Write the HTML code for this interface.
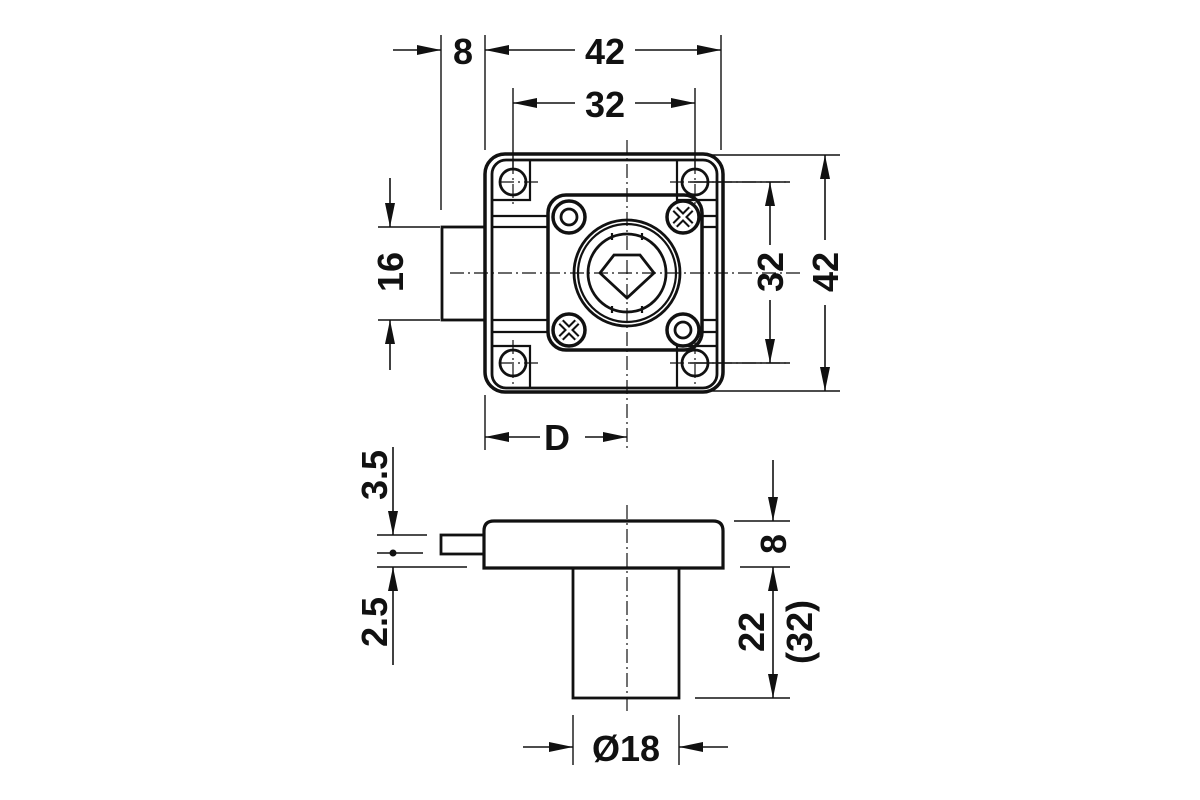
<!DOCTYPE html>
<html><head><meta charset="utf-8"><style>
html,body{margin:0;padding:0;background:#fff;}
svg{display:block}
text{font-family:"Liberation Sans",Arial,sans-serif;font-weight:bold;font-size:36px;fill:#111;}
</style></head><body>
<svg width="1200" height="800" viewBox="0 0 1200 800" xmlns="http://www.w3.org/2000/svg">
<defs>
<marker id="a" viewBox="0 0 24 10" refX="24" refY="5" markerWidth="24" markerHeight="10" markerUnits="userSpaceOnUse" orient="auto-start-reverse"><path d="M0,0 L24,5 L0,10 z" fill="#111"/></marker>
</defs>
<g stroke="#111" fill="none">
<rect x="485" y="154" width="238" height="238" rx="20" stroke-width="3.5"/>
<rect x="492" y="160" width="225" height="228" rx="14" stroke-width="2.8"/>
<path d="M492,200 H530 V160 M677,160 V200 H717 M492,346 H530 V388 M677,388 V346 H717" stroke-width="2.2"/>
<path d="M492,216 H548 M492,227 H548 M492,320 H548 M492,332 H548 M702,216 H717 M702,227 H717 M702,320 H717 M702,332 H717" stroke-width="2.2"/>
<rect x="442" y="227" width="43" height="93" stroke-width="2.8"/>
<rect x="548" y="195" width="154" height="155" rx="18" stroke-width="3.5"/>
<circle cx="513" cy="182" r="13" stroke-width="2.8"/>
<circle cx="695" cy="182" r="13" stroke-width="2.8"/>
<circle cx="513" cy="363" r="13" stroke-width="2.8"/>
<circle cx="695" cy="363" r="13" stroke-width="2.8"/>
<circle cx="569" cy="217" r="16" stroke-width="3.5"/><circle cx="569" cy="217" r="8" stroke-width="2.8"/>
<circle cx="683" cy="330" r="16" stroke-width="3.5"/><circle cx="683" cy="330" r="8" stroke-width="2.8"/>
<circle cx="683" cy="217" r="16" stroke-width="3.5"/>
<circle cx="569" cy="330" r="16" stroke-width="3.5"/>
<path d="M675,209 L691,225 M691,209 L675,225 M561,322 L577,338 M577,322 L561,338" stroke-width="7"/>
<path d="M675,209 L691,225 M691,209 L675,225 M561,322 L577,338 M577,322 L561,338" stroke="#fff" stroke-width="3"/>
<circle cx="627" cy="273" r="53" stroke-width="2.8"/>
<circle cx="627" cy="273" r="49" stroke-width="2.2"/>
<circle cx="627" cy="273" r="39" stroke-width="2.8"/>
<path d="M612,233 V240 M642,233 V240 M612,306 V313 M642,306 V313" stroke-width="2.2"/>
<path d="M600,273 L614,255 H640 L654,273 L627,298 Z" stroke-width="2.8"/>
<path d="M450,273 H800 M627,140 V450 M500,182 H540 M670,182 H790 M500,363 H540 M670,363 H790 M513,160 V205 M695,160 V205 M513,340 V385 M695,340 V385" stroke-width="1.2" stroke-dasharray="14,4,2,4"/>
<path d="M441,35 V210 M485,35 V150 M721,35 V150 M513,88 V170 M695,88 V170" stroke-width="1.4"/>
<path d="M393,50 H441" stroke-width="1.6" marker-end="url(#a)"/>
<path d="M575,50 H485" stroke-width="1.6" marker-end="url(#a)"/>
<path d="M635,50 H721" stroke-width="1.6" marker-end="url(#a)"/>
<path d="M575,103 H513" stroke-width="1.6" marker-end="url(#a)"/>
<path d="M635,103 H695" stroke-width="1.6" marker-end="url(#a)"/>
<path d="M712,155 H840 M712,391 H840 M690,182 H790 M690,363 H790" stroke-width="1.4"/>
<path d="M825,240 V155" stroke-width="1.6" marker-end="url(#a)"/>
<path d="M825,305 V391" stroke-width="1.6" marker-end="url(#a)"/>
<path d="M770,245 V182" stroke-width="1.6" marker-end="url(#a)"/>
<path d="M770,300 V363" stroke-width="1.6" marker-end="url(#a)"/>
<path d="M378,227 H440 M378,320 H440" stroke-width="1.4"/>
<path d="M390,178 V227" stroke-width="1.6" marker-end="url(#a)"/>
<path d="M390,370 V320" stroke-width="1.6" marker-end="url(#a)"/>
<path d="M485,395 V450" stroke-width="1.4"/>
<path d="M540,437 H485" stroke-width="1.6" marker-end="url(#a)"/>
<path d="M585,437 H627" stroke-width="1.6" marker-end="url(#a)"/>
<path d="M484,568 V531 Q484,521 494,521 H713 Q723,521 723,531 V568 Z" stroke-width="3.2"/>
<rect x="441" y="535" width="43" height="19" stroke-width="2.8"/>
<rect x="573" y="568" width="106" height="130" stroke-width="2.8"/>
<path d="M627,505 V712" stroke-width="1.2" stroke-dasharray="14,4,2,4"/>
<path d="M377,535 H427 M377,553 H423 M377,567 H467" stroke-width="1.4"/>
<circle cx="393" cy="553" r="3.5" fill="#111" stroke="none"/>
<path d="M393,447 V535" stroke-width="1.6" marker-end="url(#a)"/>
<path d="M393,665 V567" stroke-width="1.6" marker-end="url(#a)"/>
<path d="M734,521 H790 M740,567 H790 M695,698 H790" stroke-width="1.4"/>
<path d="M773,460 V521" stroke-width="1.6" marker-end="url(#a)"/>
<path d="M773,632 V567" stroke-width="1.6" marker-end="url(#a)"/>
<path d="M773,632 V698" stroke-width="1.6" marker-end="url(#a)"/>
<path d="M573,715 V765 M679,715 V765" stroke-width="1.4"/>
<path d="M523,747 H573" stroke-width="1.6" marker-end="url(#a)"/>
<path d="M728,747 H679" stroke-width="1.6" marker-end="url(#a)"/>
</g>
<text x="463" y="64" text-anchor="middle">8</text>
<text x="605" y="64" text-anchor="middle">42</text>
<text x="605" y="117" text-anchor="middle">32</text>
<text x="557" y="450" text-anchor="middle">D</text>
<text x="626" y="761" text-anchor="middle">Ø18</text>
<text transform="translate(403,272) rotate(-90)" text-anchor="middle">16</text>
<text transform="translate(783,272) rotate(-90)" text-anchor="middle">32</text>
<text transform="translate(838,272) rotate(-90)" text-anchor="middle">42</text>
<text transform="translate(387,475) rotate(-90)" text-anchor="middle">3.5</text>
<text transform="translate(387,622) rotate(-90)" text-anchor="middle">2.5</text>
<text transform="translate(786,544) rotate(-90)" text-anchor="middle">8</text>
<text transform="translate(764,632) rotate(-90)" text-anchor="middle">22</text>
<text transform="translate(812,632) rotate(-90)" text-anchor="middle">(32)</text>
</svg>
</body></html>
